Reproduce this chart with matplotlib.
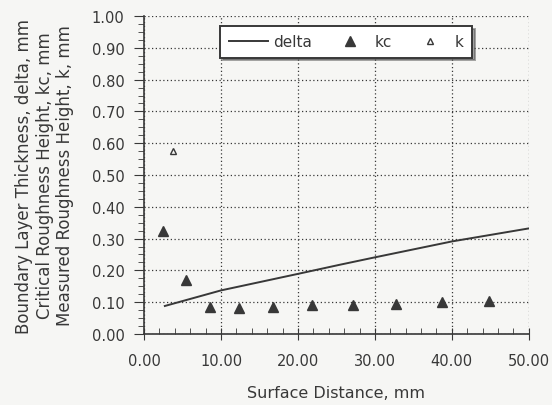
import matplotlib
matplotlib.use("Agg")
import matplotlib.pyplot as plt
from matplotlib.ticker import MultipleLocator, FormatStrFormatter
from matplotlib.lines import Line2D

# Boundary layer thickness (line)
delta_x = [2.7, 10.0, 20.0, 25.5, 30.0, 40.0, 50.0]
delta_y = [0.088, 0.137, 0.189, 0.218, 0.241, 0.291, 0.332]

# Critical roughness height (filled triangles)
kc_x = [2.5, 5.4, 8.6, 12.3, 16.8, 21.8, 27.1, 32.8, 38.7, 44.8]
kc_y = [0.325, 0.170, 0.085, 0.082, 0.085, 0.090, 0.090, 0.095, 0.100, 0.105]

# Measured roughness height (open triangle)
k_x = [3.8]
k_y = [0.575]

plt.rcParams['font.family'] = ['DejaVu Sans']
ink = '#383838'
bg = '#f6f6f4'

fig = plt.figure(figsize=(5.52, 4.06), dpi=100, facecolor=bg)
ax = fig.add_axes([0.261, 0.175, 0.697, 0.783])
ax.set_facecolor(bg)

ax.plot(delta_x, delta_y, color=ink, lw=1.4)
ax.plot(kc_x, kc_y, linestyle='none', marker='^', ms=6.5, color=ink)
ax.plot(k_x, k_y, linestyle='none', marker='^', ms=5, mfc='none', mec=ink, mew=1.0)

ax.set_xlim(0, 50)
ax.set_ylim(0, 1.0)
ax.xaxis.set_major_locator(MultipleLocator(10))
ax.xaxis.set_minor_locator(MultipleLocator(2))
ax.yaxis.set_major_locator(MultipleLocator(0.1))
ax.yaxis.set_minor_locator(MultipleLocator(0.025))
ax.xaxis.set_major_formatter(FormatStrFormatter('%.2f'))
ax.yaxis.set_major_formatter(FormatStrFormatter('%.2f'))

ax.grid(True, which='major', linestyle=(0, (1, 2)), color=ink, lw=0.9)
for s in ['top', 'right']:
    ax.spines[s].set_visible(False)
for s in ['left', 'bottom']:
    ax.spines[s].set_color(ink)
    ax.spines[s].set_linewidth(1.2)

ax.tick_params(axis='x', which='major', direction='inout', length=8, color=ink,
               labelsize=10.5, labelcolor=ink, pad=10)
ax.tick_params(axis='x', which='minor', direction='in', length=4, color=ink)
ax.tick_params(axis='y', which='major', direction='out', length=7, color=ink,
               labelsize=10.5, labelcolor=ink, pad=7)
ax.tick_params(axis='y', which='minor', direction='out', length=4, color=ink)

ax.set_xlabel('Surface Distance, mm', fontsize=11.5, color=ink, labelpad=12)
ax.set_ylabel('Boundary Layer Thickness, delta, mm\n'
              'Critical Roughness Height, kc, mm\n'
              'Measured Roughness Height, k, mm',
              fontsize=12, color=ink, labelpad=13, linespacing=1.15)

handles = [
    Line2D([], [], color=ink, lw=1.4),
    Line2D([], [], linestyle='none', marker='^', ms=6.5, color=ink),
    Line2D([], [], linestyle='none', marker='^', ms=5, mfc='none', mec=ink),
]
leg = ax.legend(handles, ['delta', 'kc', 'k'], ncol=3, loc='upper center',
                bbox_to_anchor=(0.525, 0.969), borderaxespad=0, frameon=True,
                shadow=True, fancybox=False, fontsize=11, handlelength=2.6,
                handletextpad=0.3, columnspacing=1.2, borderpad=0.55)
leg.get_frame().set_edgecolor(ink)
leg.get_frame().set_linewidth(1.4)
leg.get_frame().set_facecolor('white')
for t in leg.get_texts():
    t.set_color(ink)

fig.savefig('out.png', dpi=100, facecolor=bg)
